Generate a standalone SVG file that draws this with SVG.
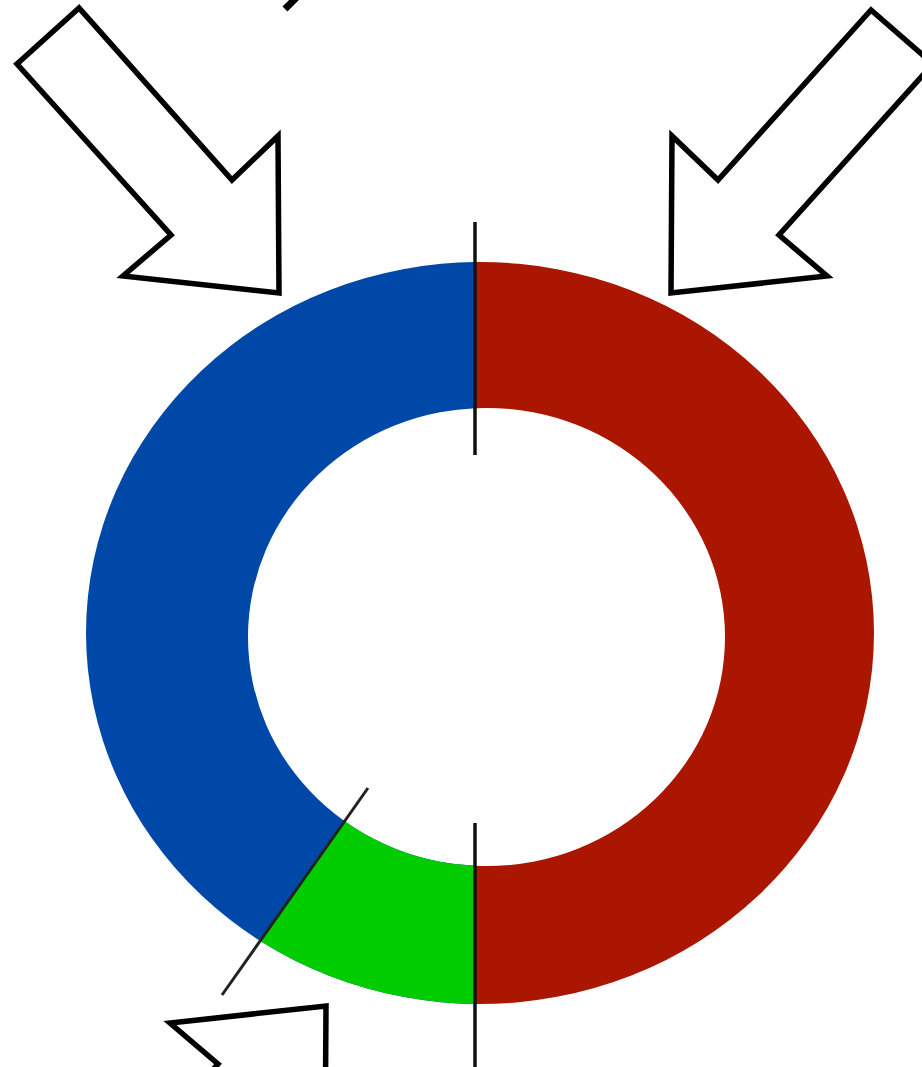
<svg xmlns="http://www.w3.org/2000/svg" width="922" height="1067" viewBox="0 0 922 1067">
<style>
.arrow{fill:#fff;stroke:#000;stroke-width:5.5;stroke-linejoin:miter;stroke-miterlimit:10}
.div{stroke:#111;stroke-width:3.5;fill:none}
</style>
<defs>
<clipPath id="leftHalf"><rect x="0" y="0" width="475" height="1067"/></clipPath>
<clipPath id="rightHalf"><rect x="475" y="0" width="447" height="1067"/></clipPath>
<clipPath id="greenWedge"><polygon points="476,633 99,1167 475,1167 475,633"/></clipPath>
<path id="ring" fill-rule="evenodd" d="M86,633 a394,371 0 1,0 788,0 a394,371 0 1,0 -788,0 Z M248,637 a238.5,229 0 1,0 477,0 a238.5,229 0 1,0 -477,0 Z"/>
</defs>
<rect width="922" height="1067" fill="#fff"/>
<g id="ring-blue"><use href="#ring" fill="#0048a8" clip-path="url(#leftHalf)"/></g>
<g id="ring-red"><use href="#ring" fill="#aa1600" clip-path="url(#rightHalf)"/></g>
<g id="ring-green"><use href="#ring" fill="#00cc00" clip-path="url(#greenWedge)"/></g>
<g id="connectors">
<line class="div" x1="475" y1="222" x2="475" y2="455"/>
<line class="div" x1="475" y1="823" x2="475" y2="1067"/>
<line class="div" x1="368" y1="788" x2="222" y2="995" style="stroke:#222;stroke-width:3"/>
</g>
<g id="arrow-left"><polygon class="arrow" points="79,8 17,64 171,235 123,276 279,293 278,136 232,180"/></g>
<g id="arrow-right"><polygon class="arrow" points="871,10 933,64 779,235 827,276 671,293 672,136 718,180"/></g>
<g id="arrow-bottom"><polygon class="arrow" points="126,1291 64,1235 218,1064 170,1023 326,1006 325,1163 279,1119"/></g>
<g id="top-mark"><line x1="285" y1="9" x2="297" y2="-3" stroke="#000" stroke-width="7"/></g>
</svg>
